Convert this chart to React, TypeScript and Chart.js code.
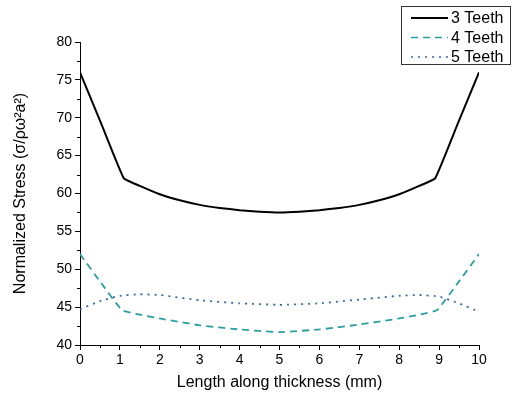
import React, { useEffect, useRef } from "react";
import { Chart, registerables } from "chart.js";

Chart.register(...registerables);

const xTeeth3 = [0, 0.55, 1.1, 1.5, 2, 2.5, 3, 3.5, 4, 4.5, 5, 5.5, 6, 6.5, 7, 7.5, 8, 8.5, 8.9, 9.45, 10];
const teeth3 = [76, 69, 62, 61.0, 59.9, 59.1, 58.5, 58.1, 57.8, 57.6, 57.5, 57.6, 57.8, 58.1, 58.5, 59.1, 59.9, 61.0, 62, 69, 76];

const xTeeth4 = [0, 0.5, 1.05, 1.5, 2, 3, 4, 5, 6, 7, 8, 8.5, 8.95, 9.5, 10];
const teeth4 = [52, 48.4, 44.6, 44, 43.5, 42.6, 42.05, 41.7, 42.05, 42.7, 43.5, 44, 44.6, 48.4, 52];

const xTeeth5 = [0, 0.5, 1, 1.5, 2, 3, 4, 5, 6, 7, 8, 8.5, 9, 9.5, 10];
const teeth5 = [44.7, 45.8, 46.5, 46.7, 46.6, 45.9, 45.5, 45.3, 45.5, 46.0, 46.5, 46.6, 46.4, 45.5, 44.4];

const seriesLabels = ["3 Teeth", "4 Teeth", "5 Teeth"];
const seriesColors = ["#000000", "#2a9f9f", "#3a6aa8"];
const seriesDash = [[], [7, 5], [2, 5]];

const xTitle = "Length along thickness (mm)";
const yTitle = "Normalized Stress (σ/ρω²a²)";

const FONT = "'Liberation Sans', Arial, sans-serif";

const toPoints = (xs: number[], ys: number[]) => xs.map((x, i) => ({ x, y: ys[i] }));

const extrasPlugin = {
  id: "extras",
  afterDraw(chart: any) {
    const ctx = chart.ctx;
    const xs = chart.scales.x;
    const ys = chart.scales.y;
    const area = chart.chartArea;
    ctx.save();
    ctx.strokeStyle = "#000";
    ctx.lineWidth = 1;
    // minor ticks
    for (let v = 0.5; v < 10; v += 1) {
      const px = Math.round(xs.getPixelForValue(v)) + 0.5;
      ctx.beginPath();
      ctx.moveTo(px, area.bottom);
      ctx.lineTo(px, area.bottom + 3);
      ctx.stroke();
    }
    for (let v = 42.5; v < 80; v += 5) {
      const py = Math.round(ys.getPixelForValue(v)) + 0.5;
      ctx.beginPath();
      ctx.moveTo(area.left, py);
      ctx.lineTo(area.left - 3, py);
      ctx.stroke();
    }
    // legend
    const bx = 401.5, by = 6.5, bw = 109, bh = 58;
    ctx.fillStyle = "#fff";
    ctx.fillRect(bx, by, bw, bh);
    ctx.strokeStyle = "#333";
    ctx.strokeRect(bx, by, bw, bh);
    ctx.font = "16px " + FONT;
    ctx.textBaseline = "middle";
    ctx.textAlign = "left";
    seriesLabels.forEach((lab, i) => {
      const y = 18 + i * 19.5;
      ctx.strokeStyle = seriesColors[i];
      ctx.lineWidth = i === 0 ? 2 : 1.5;
      ctx.setLineDash(seriesDash[i]);
      ctx.beginPath();
      ctx.moveTo(411, y);
      ctx.lineTo(448, y);
      ctx.stroke();
      ctx.setLineDash([]);
      ctx.fillStyle = "#000";
      ctx.fillText(lab, 451, y + 1);
    });
    ctx.restore();
  },
};

export default function App() {
  const ref = useRef<HTMLCanvasElement>(null);
  useEffect(() => {
    if (!ref.current) return;
    const chart = new Chart(ref.current, {
      type: "line",
      data: {
        datasets: [
          { data: toPoints(xTeeth3, teeth3) },
          { data: toPoints(xTeeth4, teeth4) },
          { data: toPoints(xTeeth5, teeth5) },
        ].map((d, i) => ({
          ...d,
          label: seriesLabels[i],
          borderColor: seriesColors[i],
          backgroundColor: seriesColors[i],
          borderWidth: i === 0 ? 2 : 1.8,
          borderDash: seriesDash[i],
          pointRadius: 0,
          tension: 0.1,
          fill: false,
        })),
      },
      options: {
        responsive: false,
        animation: false,
        layout: { padding: { top: 42, right: 35, left: 0, bottom: 0 } },
        plugins: { legend: { display: false }, tooltip: { enabled: false } },
        scales: {
          x: {
            type: "linear",
            min: 0,
            max: 10,
            ticks: { stepSize: 1, color: "#000", padding: 2, font: { family: FONT, size: 14 } },
            grid: { drawOnChartArea: false, tickLength: 5, color: "#000" },
            border: { color: "#000", width: 1 },
            title: { display: true, text: xTitle, color: "#000", font: { family: FONT, size: 16 }, padding: { top: 0, bottom: 2 } },
            afterFit: (s: any) => { s.height = 49; },
          },
          y: {
            type: "linear",
            min: 40,
            max: 80,
            ticks: { stepSize: 5, color: "#000", padding: 3, font: { family: FONT, size: 14 } },
            grid: { drawOnChartArea: false, tickLength: 5, color: "#000" },
            border: { color: "#000", width: 1 },
            title: { display: true, text: yTitle, color: "#000", font: { family: FONT, size: 16 }, padding: { top: 11, bottom: 0 } },
            afterFit: (s: any) => { s.width = 80; },
          },
        },
      },
      plugins: [extrasPlugin],
    } as any);
    return () => chart.destroy();
  }, []);
  return (
    <div style={{ position: "absolute", left: 0, top: 0, width: 514, height: 394, background: "#fff" }}>
      <canvas ref={ref} width={514} height={394} />
    </div>
  );
}
